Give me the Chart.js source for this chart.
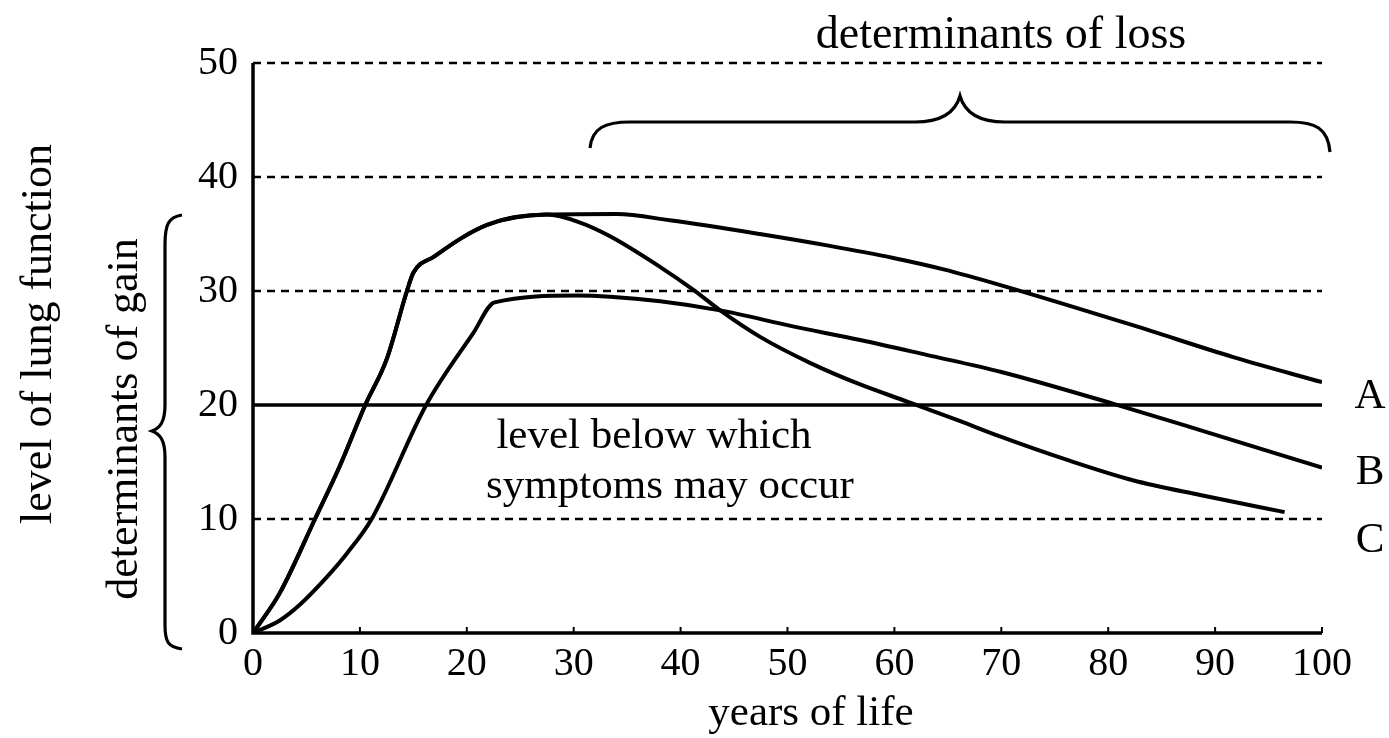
<!DOCTYPE html>
<html>
<head>
<meta charset="utf-8">
<script src="https://cdn.jsdelivr.net/npm/chart.js@4.4.0/dist/chart.umd.min.js"></script>
<style>
  html, body { margin: 0; padding: 0; background: #fff; }
</style>
</head>
<body>
<canvas id="lungChart" width="1389" height="738"></canvas>
<script>
// years of life / level of lung function
const yearsA = [0, 2.5, 5.8, 8.1, 10.5, 12.5, 14.4, 15, 16.9, 21.9, 27.5, 34, 39, 47.4, 53.7, 59.9, 64.6, 70, 82.3, 91.7, 100];
const levelA = [0, 3.5, 10, 14.6, 20, 24, 30, 31.6, 33, 35.8, 36.7, 36.75, 36.2, 35, 34, 32.9, 31.9, 30.5, 27, 24.2, 22];

const yearsB = [0, 2.5, 4.4, 6.9, 8.8, 11.1, 16.2, 20.6, 22.6, 30.3, 33.4, 38.1, 43.7, 50.5, 56.8, 63, 70, 80.5, 88.6, 100];
const levelB = [0, 1.1, 2.5, 4.9, 7, 10, 20, 26.3, 29, 29.6, 29.5, 29.1, 28.3, 26.9, 25.7, 24.4, 22.9, 20.1, 17.8, 14.5];

const yearsC = [0, 2.5, 5.8, 8.1, 10.5, 12.5, 14.4, 15, 16.9, 21.9, 27.5, 30.6, 33.4, 38.1, 41.2, 43.7, 47.4, 52.1, 56.8, 61.2, 66.1, 70, 76.1, 82.3, 88.6, 96.5];
const levelC = [0, 3.5, 10, 14.6, 20, 24, 30, 31.6, 33, 35.8, 36.7, 36, 34.8, 32.1, 30.1, 28.3, 26, 23.7, 21.8, 20.3, 18.6, 17.2, 15.2, 13.4, 12.1, 10.6];

const thresholdYears = [0, 100];
const thresholdLevel = [20, 20];

const xTicks = [0, 10, 20, 30, 40, 50, 60, 70, 80, 90, 100];
const yTicks = [0, 10, 20, 30, 40, 50];
const dashedLevels = [10, 30, 40, 50];
const curveNames = ['A', 'B', 'C'];

const serif = '"Liberation Serif", "Times New Roman", serif';

function toPoints(xs, ys) {
    return xs.map((x, i) => ({ x: x, y: ys[i] }));
}

function curve(label, xs, ys) {
    return {
        label: label,
        data: toPoints(xs, ys),
        borderColor: '#000',
        borderWidth: 4,
        pointRadius: 0,
        fill: false,
        cubicInterpolationMode: 'monotone'
    };
}

// dashed grid, axes and little x ticks, under the curves
const framePlugin = {
    id: 'frame',
    beforeDatasetsDraw(chart) {
        const ctx = chart.ctx;
        const xs = chart.scales.x;
        const ys = chart.scales.y;
        const left = xs.getPixelForValue(0);
        const right = xs.getPixelForValue(100);
        const bottom = ys.getPixelForValue(0);
        const top = ys.getPixelForValue(50);

        ctx.save();
        ctx.strokeStyle = '#000';
        ctx.lineWidth = 2.6;
        ctx.setLineDash([8, 6]);
        dashedLevels.forEach(v => {
            const y = ys.getPixelForValue(v);
            ctx.beginPath();
            ctx.moveTo(left, y);
            ctx.lineTo(right, y);
            ctx.stroke();
        });
        ctx.setLineDash([]);

        ctx.lineWidth = 3.5;
        ctx.beginPath();
        ctx.moveTo(left, top);
        ctx.lineTo(left, bottom);
        ctx.lineTo(right, bottom);
        ctx.stroke();

        ctx.lineWidth = 2;
        xTicks.slice(1).forEach(v => {
            const x = xs.getPixelForValue(v);
            ctx.beginPath();
            ctx.moveTo(x, bottom);
            ctx.lineTo(x, bottom - 6);
            ctx.stroke();
        });
        ctx.restore();
    },
    afterDraw(chart) {
        const ctx = chart.ctx;
        ctx.save();
        ctx.fillStyle = '#000';
        ctx.strokeStyle = '#000';
        ctx.textAlign = 'center';
        ctx.textBaseline = 'alphabetic';

        ctx.font = `46px ${serif}`;
        ctx.fillText('determinants of loss', 1001, 48);

        ctx.font = `43px ${serif}`;
        ctx.fillText('level below which', 654, 448);
        ctx.fillText('symptoms may occur', 670, 498);
        ctx.fillText('years of life', 811, 725);

        ctx.font = `43px ${serif}`;
        ctx.fillText(curveNames[0], 1370, 408);
        ctx.fillText(curveNames[1], 1370, 484);
        ctx.fillText(curveNames[2], 1370, 552);

        ctx.font = `44px ${serif}`;
        ctx.save();
        ctx.translate(51, 334);
        ctx.rotate(-Math.PI / 2);
        ctx.fillText('level of lung function', 0, 0);
        ctx.restore();

        ctx.save();
        ctx.translate(137, 419);
        ctx.rotate(-Math.PI / 2);
        ctx.fillText('determinants of gain', 0, 0);
        ctx.restore();

        // braces
        ctx.lineWidth = 3.2;
        ctx.beginPath();
        ctx.moveTo(590, 148);
        ctx.bezierCurveTo(592, 128, 605, 122, 630, 122);
        ctx.lineTo(915, 122);
        ctx.bezierCurveTo(945, 122, 956, 110, 960, 96);
        ctx.bezierCurveTo(964, 110, 975, 122, 1005, 122);
        ctx.lineTo(1290, 122);
        ctx.bezierCurveTo(1315, 122, 1328, 128, 1330, 152);
        ctx.stroke();

        ctx.beginPath();
        ctx.moveTo(182, 215);
        ctx.bezierCurveTo(168, 217, 165, 225, 165, 245);
        ctx.lineTo(165, 405);
        ctx.bezierCurveTo(165, 422, 160, 428, 152, 431);
        ctx.bezierCurveTo(160, 434, 165, 440, 165, 457);
        ctx.lineTo(165, 625);
        ctx.bezierCurveTo(165, 642, 168, 647, 182, 649);
        ctx.stroke();
        ctx.restore();
    }
};

const tickFont = { family: serif, size: 40 };

new Chart(document.getElementById('lungChart'), {
    type: 'line',
    data: {
        datasets: [
            {
                label: 'threshold',
                data: toPoints(thresholdYears, thresholdLevel),
                borderColor: '#000',
                borderWidth: 3.5,
                pointRadius: 0,
                fill: false
            },
            curve('A', yearsA, levelA),
            curve('B', yearsB, levelB),
            curve('C', yearsC, levelC)
        ]
    },
    options: {
        responsive: false,
        animation: false,
        layout: { padding: { left: 0, right: 67, top: 63, bottom: 0 } },
        plugins: {
            legend: { display: false },
            tooltip: { enabled: false }
        },
        scales: {
            x: {
                type: 'linear',
                min: 0,
                max: 100,
                afterBuildTicks: s => { s.ticks = xTicks.map(v => ({ value: v })); },
                afterFit: s => { s.height = 105; },
                ticks: { color: '#000', font: tickFont, padding: 7, maxRotation: 0, autoSkip: false },
                grid: { display: false, drawTicks: false },
                border: { display: false }
            },
            y: {
                min: 0,
                max: 50,
                afterBuildTicks: s => { s.ticks = yTicks.map(v => ({ value: v })); },
                afterFit: s => { s.width = 253; },
                ticks: { color: '#000', font: tickFont, padding: 15 },
                grid: { display: false, drawTicks: false },
                border: { display: false }
            }
        }
    },
    plugins: [framePlugin]
});
</script>
</body>
</html>
